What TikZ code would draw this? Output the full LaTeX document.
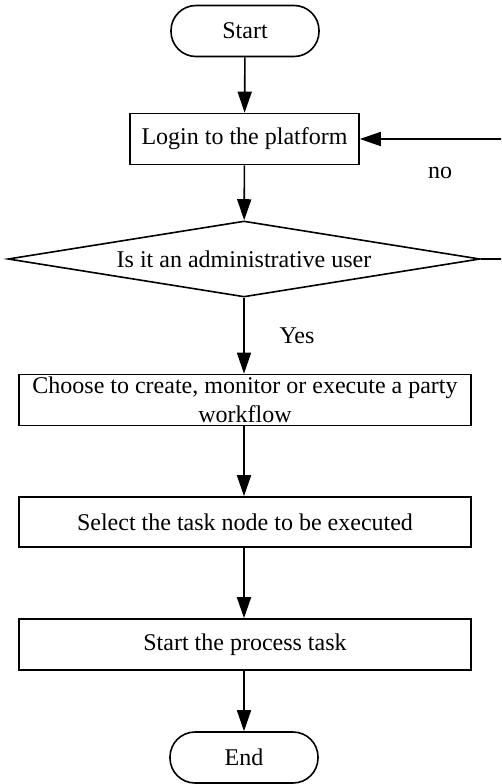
\documentclass[tikz,border=0pt]{standalone}
\usepackage{fontspec}
\setmainfont{Liberation Serif}
\usetikzlibrary{shapes.geometric,arrows.meta}
\begin{document}
\begin{tikzpicture}[x=1pt,y=-1pt,
  every node/.style={font=\fontsize{24}{29}\selectfont, inner sep=0pt},
  terminal/.style={draw, line width=1.6pt, rounded corners=25pt, minimum width=148pt, minimum height=51pt},
  stepbox/.style={draw, line width=1.6pt, minimum height=51pt},
  decision/.style={draw, diamond, line width=1.6pt, minimum width=472pt, minimum height=76pt},
  flow/.style={line width=1.6pt, -{Triangle[width=14pt,length=21pt]}},
  lbl/.style={}]
  \useasboundingbox (0,0) rectangle (501,784);
  \clip (0,0) rectangle (501,784);

  % process steps, top to bottom
  \node[terminal] (start) at (245,31) {Start};
  \node[stepbox, minimum width=229pt] (login) at (244.5,139) {Login to the platform};
  \node[decision] (dec) at (244,259) {};
  \node at (dec.center) {Is it an administrative user};
  \node[stepbox, minimum width=452pt, align=center] (choose) at (245,400)
    {Choose to create, monitor or execute a party\\workflow};
  \node[stepbox, minimum width=452pt, minimum height=50pt] (select) at (245,522) {Select the task node to be executed};
  \node[stepbox, minimum width=452pt] (run) at (245,644.5) {Start the process task};
  \node[terminal] (end) at (244,757.5) {End};

  % branch labels
  \node[lbl] (no) at (440,173) {no};
  \node[lbl] (yes) at (297,336) {Yes};

  % connectors
  \draw[flow] (start) -- (login);
  \draw[flow] (login) -- (dec);
  \draw[flow] (dec.south) -- (choose.north -| dec.south);
  \draw[flow] (choose.south -| dec.south) -- (select.north -| dec.south);
  \draw[flow] (select.south -| dec.south) -- (run.north -| dec.south);
  \draw[flow] (run.south -| end.north) -- (end.north);

  % "no" loop back to the login step
  \coordinate (back) at (512,0);
  \draw[flow] (dec.east) -- (dec.east -| back) -- (login.east -| back) -- (login.east);
\end{tikzpicture}
\end{document}
